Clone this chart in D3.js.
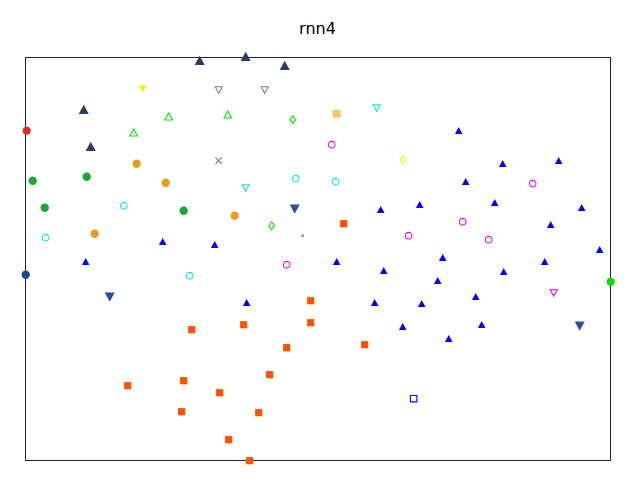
<!DOCTYPE html>
<html>
<head>
<meta charset="utf-8">
<script src="https://cdn.jsdelivr.net/npm/d3@7"></script>
<style>
body { margin:0; background:#fff; }
text { font-family: "DejaVu Sans", sans-serif; }
</style>
</head>
<body>
<svg id="chart" width="640" height="480"></svg>
<script>
// embedding points, one array per class
var navy_up = [[174,400],[220,404],[259,395],[58,351],[65,314]];
var yellow_down = [[117,372]];
var gray_down = [[193,371],[239,371]];
var lime_up = [[143,344],[108,328],[202,346]];
var lime_diamond = [[267,341],[246,235]];
var peach_square = [[311,347]];
var cyan_down = [[351,353],[220,273]];
var magenta_circle = [[306,316],[507,277],[437,239],[463,221],[383,225],[261,196]];
var yellow_diamond = [[377,301]];
var gray_x = [[193,300]];
var red_circle = [[1,330]];
var orange_circle = [[111,297],[140,278],[69,227],[209,245]];
var green_circle = [[7,280],[61,284],[19,253],[158,250]];
var lime_circle = [[585,179]];
var cyan_circle = [[98,255],[20,223],[164,185],[270,282],[310,279]];
var navy_circle = [[0,186]];
var navy_down = [[84,164],[269,252],[554,135]];
var blue_up = [[433,330],[477,297],[533,300],[440,279],[394,256],[469,258],[556,253],[525,236],
	[355,251],[189,216],[137,219],[60,199],[311,199],[358,190],[221,158],[349,158],[574,211],
	[417,203],[519,199],[478,189],[412,180],[450,164],[396,157],[377,134],[456,136],[423,122]];
var orange_square = [[318,237],[285,160],[285,138],[166,131],[218,136],[261,113],[339,116],
	[244,86],[102,75],[158,80],[194,68],[156,49],[233,48],[203,21],[224,0]];
var blue_square = [[388,62]];
var magenta_down = [[528,168]];
var tiny_dot = [[277,225]];

var svg = d3.select("#chart");
var m_left = 25, m_right = 610, m_top = 57, m_bottom = 460;

var x = d3.scaleLinear().domain([0,585]).range([m_left+0.7,m_right+0.7]);
var y = d3.scaleLinear().domain([0,403]).range([m_bottom+0.7,m_top+0.7]);

// marker shapes, s = half size
function shape(kind, s){
	if(kind=="up") return "M0,"+(-s)+"L"+(-s)+","+(s*0.85)+"L"+s+","+(s*0.85)+"Z";
	if(kind=="down") return "M0,"+s+"L"+(-s)+","+(-s*0.85)+"L"+s+","+(-s*0.85)+"Z";
	if(kind=="square") return "M"+(-s)+","+(-s)+"H"+s+"V"+s+"H"+(-s)+"Z";
	if(kind=="diamond") return "M0,"+(-s)+"L"+(s*0.75)+",0L0,"+s+"L"+(-s*0.75)+",0Z";
	if(kind=="x") return "M"+(-s)+","+(-s)+"L"+s+","+s+"M"+(-s)+","+s+"L"+s+","+(-s);
	return d3.symbol().type(d3.symbolCircle).size(Math.PI*s*s)();
}

var groups = [
	{data:navy_up, kind:"up", s:5, fill:"#2b3d62"},
	{data:yellow_down, kind:"down", s:3.8, fill:"#f4f000"},
	{data:gray_down, kind:"down", s:3.5, stroke:"#808080"},
	{data:lime_up, kind:"up", s:3.8, stroke:"#00ee00"},
	{data:lime_diamond, kind:"diamond", s:3.8, stroke:"#00ee00"},
	{data:peach_square, kind:"square", s:4, fill:"#f8c470"},
	{data:cyan_down, kind:"down", s:3.5, stroke:"#00e8e8"},
	{data:magenta_circle, kind:"circle", s:3.3, stroke:"#ee00ee"},
	{data:yellow_diamond, kind:"diamond", s:3.8, stroke:"#f4f000"},
	{data:gray_x, kind:"x", s:3.3, stroke:"#808080"},
	{data:red_circle, kind:"circle", s:4, fill:"#e8261c"},
	{data:orange_circle, kind:"circle", s:4.2, fill:"#e89c1c"},
	{data:green_circle, kind:"circle", s:4.2, fill:"#16a83a"},
	{data:lime_circle, kind:"circle", s:4, fill:"#00dd00"},
	{data:cyan_circle, kind:"circle", s:3.3, stroke:"#00e8e8"},
	{data:navy_circle, kind:"circle", s:4.2, fill:"#1f4590"},
	{data:navy_down, kind:"down", s:5, fill:"#2a4d9c"},
	{data:blue_up, kind:"up", s:3.8, fill:"#0000ff"},
	{data:orange_square, kind:"square", s:3.6, fill:"#ff5200"},
	{data:blue_square, kind:"square", s:3.2, stroke:"#0000ff"},
	{data:magenta_down, kind:"down", s:3.5, stroke:"#ee00ee"},
	{data:tiny_dot, kind:"circle", s:1.2, fill:"#c0506a"}
];

// frame
svg.append("rect")
	.attr("x",m_left).attr("y",m_top)
	.attr("width",m_right-m_left).attr("height",m_bottom-m_top)
	.style("fill","none").style("stroke","#222").style("stroke-width",1)
	.attr("shape-rendering","crispEdges");

groups.forEach(function(g){
	svg.append("g").selectAll("path")
		.data(g.data)
		.enter()
			.append("path")
			.attr("d", shape(g.kind, g.s))
			.attr("transform", function(d){return "translate("+x(d[0])+","+y(d[1])+")"})
			.style("fill", g.fill ? g.fill : "none")
			.style("stroke", g.stroke ? g.stroke : "none")
			.style("stroke-width", 1.1);
});

svg.append("text")
	.attr("x",(m_left+m_right)/2).attr("y",34)
	.attr("text-anchor","middle")
	.style("font-size","16px")
	.text("rnn4");
</script>
</body>
</html>
